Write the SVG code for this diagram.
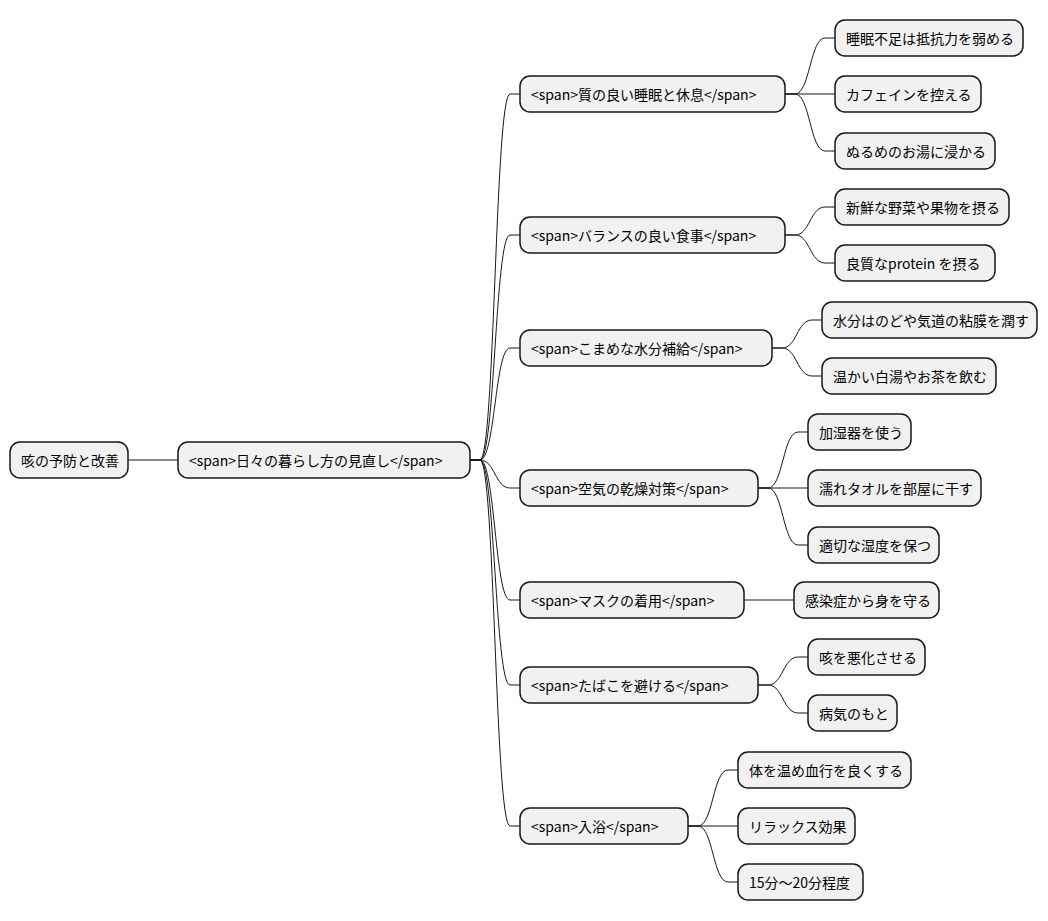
<svg xmlns="http://www.w3.org/2000/svg" width="1048" height="921" viewBox="0 0 1048 921">
<style>
rect{fill:#f1f1f1;stroke:#181818;stroke-width:1.5}
text{font-family:"Noto Sans CJK JP","DejaVu Sans",sans-serif;font-size:14px;fill:#000;dominant-baseline:central}
#connectors path{fill:none;stroke:#181818;stroke-width:1}
</style>
<rect x="0" y="0" width="1048" height="921" style="fill:#fff;stroke:none"/>
<g id="connectors">
<path d="M128 460 H178"/>
<path d="M470 460 h10 C495 460 495 94 510 94 h10"/>
<path d="M470 460 h10 C495 460 495 235 510 235 h10"/>
<path d="M470 460 h10 C495 460 495 348 510 348 h10"/>
<path d="M470 460 h10 C495 460 495 488 510 488 h10"/>
<path d="M470 460 h10 C495 460 495 600 510 600 h10"/>
<path d="M470 460 h10 C495 460 495 685 510 685 h10"/>
<path d="M470 460 h10 C495 460 495 826 510 826 h10"/>
<path d="M785 94 h10 C810 94 810 38 825 38 h10"/>
<path d="M785 94 H835"/>
<path d="M785 94 h10 C810 94 810 151 825 151 h10"/>
<path d="M785 235 h10 C810 235 810 207 825 207 h10"/>
<path d="M785 235 h10 C810 235 810 263 825 263 h10"/>
<path d="M772 348 h10 C797 348 797 320 812 320 h10"/>
<path d="M772 348 h10 C797 348 797 376 812 376 h10"/>
<path d="M758 488 h10 C783 488 783 432 798 432 h10"/>
<path d="M758 488 H808"/>
<path d="M758 488 h10 C783 488 783 545 798 545 h10"/>
<path d="M744 600 H794"/>
<path d="M758 685 h10 C783 685 783 657 798 657 h10"/>
<path d="M758 685 h10 C783 685 783 713 798 713 h10"/>
<path d="M688 826 h10 C713 826 713 770 728 770 h10"/>
<path d="M688 826 H738"/>
<path d="M688 826 h10 C713 826 713 882 728 882 h10"/>
</g>
<g id="root"><rect x="10" y="442" width="118" height="36" rx="10"/><text x="21" y="460">咳の予防と改善</text></g>
<g id="n1"><rect x="178" y="442" width="292" height="36" rx="10"/><text x="189" y="460">&lt;span&gt;日々の暮らし方の見直し&lt;/span&gt;</text></g>
<g id="a"><rect x="520" y="76" width="265" height="36" rx="10"/><text x="531" y="94">&lt;span&gt;質の良い睡眠と休息&lt;/span&gt;</text></g>
<g id="b"><rect x="520" y="217" width="265" height="36" rx="10"/><text x="531" y="235">&lt;span&gt;バランスの良い食事&lt;/span&gt;</text></g>
<g id="c"><rect x="520" y="330" width="252" height="36" rx="10"/><text x="531" y="348">&lt;span&gt;こまめな水分補給&lt;/span&gt;</text></g>
<g id="d"><rect x="520" y="470" width="238" height="36" rx="10"/><text x="531" y="488">&lt;span&gt;空気の乾燥対策&lt;/span&gt;</text></g>
<g id="e"><rect x="520" y="582" width="224" height="36" rx="10"/><text x="531" y="600">&lt;span&gt;マスクの着用&lt;/span&gt;</text></g>
<g id="f"><rect x="520" y="667" width="238" height="36" rx="10"/><text x="531" y="685">&lt;span&gt;たばこを避ける&lt;/span&gt;</text></g>
<g id="g"><rect x="520" y="808" width="168" height="36" rx="10"/><text x="531" y="826">&lt;span&gt;入浴&lt;/span&gt;</text></g>
<g id="a1"><rect x="835" y="20" width="188" height="36" rx="10"/><text x="846" y="38">睡眠不足は抵抗力を弱める</text></g>
<g id="a2"><rect x="835" y="76" width="146" height="36" rx="10"/><text x="846" y="94">カフェインを控える</text></g>
<g id="a3"><rect x="835" y="133" width="160" height="36" rx="10"/><text x="846" y="151">ぬるめのお湯に浸かる</text></g>
<g id="b1"><rect x="835" y="189" width="174" height="36" rx="10"/><text x="846" y="207">新鮮な野菜や果物を摂る</text></g>
<g id="b2"><rect x="835" y="245" width="160" height="36" rx="10"/><text x="846" y="263">良質なprotein を摂る</text></g>
<g id="c1"><rect x="822" y="302" width="215" height="36" rx="10"/><text x="833" y="320">水分はのどや気道の粘膜を潤す</text></g>
<g id="c2"><rect x="822" y="358" width="174" height="36" rx="10"/><text x="833" y="376">温かい白湯やお茶を飲む</text></g>
<g id="d1"><rect x="808" y="414" width="103" height="36" rx="10"/><text x="819" y="432">加湿器を使う</text></g>
<g id="d2"><rect x="808" y="470" width="173" height="36" rx="10"/><text x="819" y="488">濡れタオルを部屋に干す</text></g>
<g id="d3"><rect x="808" y="527" width="131" height="36" rx="10"/><text x="819" y="545">適切な湿度を保つ</text></g>
<g id="e1"><rect x="794" y="582" width="145" height="36" rx="10"/><text x="805" y="600">感染症から身を守る</text></g>
<g id="f1"><rect x="808" y="639" width="117" height="36" rx="10"/><text x="819" y="657">咳を悪化させる</text></g>
<g id="f2"><rect x="808" y="695" width="89" height="36" rx="10"/><text x="819" y="713">病気のもと</text></g>
<g id="g1"><rect x="738" y="752" width="173" height="36" rx="10"/><text x="749" y="770">体を温め血行を良くする</text></g>
<g id="g2"><rect x="738" y="808" width="117" height="36" rx="10"/><text x="749" y="826">リラックス効果</text></g>
<g id="g3"><rect x="738" y="864" width="125" height="36" rx="10"/><text x="749" y="882">15分〜20分程度</text></g>
</svg>
